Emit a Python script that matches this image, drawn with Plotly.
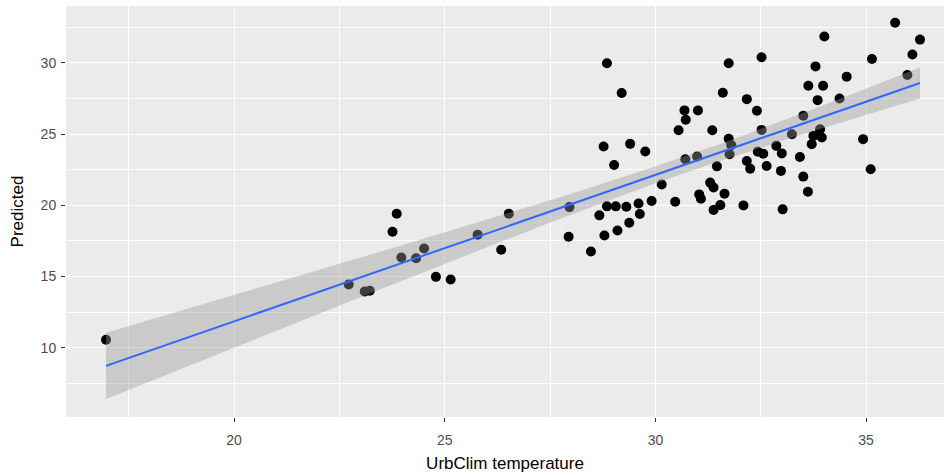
import numpy as np
import plotly.graph_objects as go

urbclim = [16.96, 22.72, 23.10, 23.22, 23.86, 23.76, 23.97, 24.32, 24.51, 24.79,
           25.14, 25.78, 26.52, 26.34, 27.96, 27.94, 28.47, 28.79, 29.10, 29.38,
           28.67, 28.85, 29.06, 29.31, 29.60, 29.63, 29.91, 30.47, 30.15, 29.02,
           28.77, 29.40, 29.76, 28.85, 29.20, 30.69, 31.01, 30.72, 30.55, 31.35,
           30.71, 30.99, 31.46, 31.30, 31.38, 31.04, 31.08, 31.64, 31.54, 31.38,
           31.74, 31.60, 31.74, 31.80, 31.76, 32.09, 32.17, 32.25, 32.43, 32.56,
           32.64, 32.17, 32.41, 32.52, 32.52, 32.87, 33.00, 32.98, 33.02, 33.43,
           33.51, 33.62, 33.24, 33.51, 33.71, 33.75, 33.87, 33.91, 33.95, 33.85,
           33.63, 33.98, 33.80, 34.01, 34.37, 34.54, 34.93, 35.11, 35.14, 35.69,
           35.98, 36.10, 36.28]
predicted = [10.56, 14.44, 13.95, 14.00, 19.41, 18.15, 16.34, 16.29, 16.97, 14.98,
             14.79, 17.94, 19.41, 16.88, 19.88, 17.80, 16.76, 17.89, 18.24, 18.78,
             19.30, 19.93, 19.93, 19.90, 20.13, 19.39, 20.31, 20.25, 21.47, 22.84,
             24.13, 24.32, 23.78, 29.98, 27.89, 26.67, 26.67, 26.01, 25.28, 25.28,
             23.24, 23.43, 22.74, 21.60, 21.25, 20.77, 20.47, 20.82, 20.02, 19.67,
             29.98, 27.91, 24.67, 24.23, 23.59, 20.00, 23.12, 22.58, 23.77, 23.62,
             22.77, 27.46, 26.64, 30.40, 25.30, 24.18, 23.65, 22.42, 19.72, 23.40,
             22.02, 20.96, 25.00, 26.29, 24.30, 24.88, 25.00, 25.35, 24.77, 27.39,
             28.40, 28.40, 29.76, 31.86, 27.51, 29.04, 24.65, 22.54, 30.28, 32.82,
             29.15, 30.59, 31.64]

x_ticks = [20, 25, 30, 35]
y_ticks = [10, 15, 20, 25, 30]
x_title = "UrbClim temperature"
y_title = "Predicted"

# Linear model fit with 95% confidence band (as geom_smooth(method="lm"))
x = np.array(urbclim)
y = np.array(predicted)
n = len(x)
b1, b0 = np.polyfit(x, y, 1)
resid = y - (b0 + b1 * x)
s = np.sqrt(np.sum(resid ** 2) / (n - 2))
xbar = x.mean()
sxx = np.sum((x - xbar) ** 2)
tval = 1.986
xs = np.linspace(x.min(), x.max(), 80)
yfit = b0 + b1 * xs
se = s * np.sqrt(1.0 / n + (xs - xbar) ** 2 / sxx)
lower = yfit - tval * se
upper = yfit + tval * se

fig = go.Figure()
fig.add_trace(go.Scatter(x=urbclim, y=predicted, mode="markers",
                         marker=dict(color="black", size=10), hoverinfo="x+y"))
fig.add_trace(go.Scatter(x=np.concatenate([xs, xs[::-1]]),
                         y=np.concatenate([upper, lower[::-1]]),
                         fill="toself", fillcolor="rgba(153,153,153,0.4)",
                         line=dict(width=0), mode="lines", hoverinfo="skip"))
fig.add_trace(go.Scatter(x=xs, y=yfit, mode="lines",
                         line=dict(color="#3366FF", width=2)))

axis_common = dict(
    showgrid=True, gridcolor="white", gridwidth=1.1,
    zeroline=False, showline=False,
    ticks="outside", ticklen=4, tickcolor="#333333", tickwidth=1,
    tickfont=dict(family="Liberation Sans, Arial", size=14, color="#4D4D4D"),
)
fig.update_layout(
    width=944, height=476,
    margin=dict(l=66, r=0, t=6, b=59),
    paper_bgcolor="white", plot_bgcolor="#EBEBEB",
    showlegend=False,
    font=dict(family="Liberation Sans, Arial"),
    xaxis=dict(range=[16.01, 36.85], tickvals=x_ticks, ticklabelstandoff=6,
               minor=dict(dtick=2.5, tick0=0, showgrid=True, gridcolor="white",
                          gridwidth=0.5, ticks=""),
               title=dict(text=x_title, standoff=10,
                          font=dict(size=17, color="black")),
               **axis_common),
    yaxis=dict(range=[5.14, 34.0], tickvals=y_ticks, ticklabelstandoff=2,
               minor=dict(dtick=2.5, tick0=0, showgrid=True, gridcolor="white",
                          gridwidth=0.5, ticks=""),
               title=dict(text=y_title, standoff=12,
                          font=dict(size=17, color="black")),
               **axis_common),
)
fig.update_xaxes(automargin=False)
fig.update_yaxes(automargin=False)
fig.write_html("out.html")
